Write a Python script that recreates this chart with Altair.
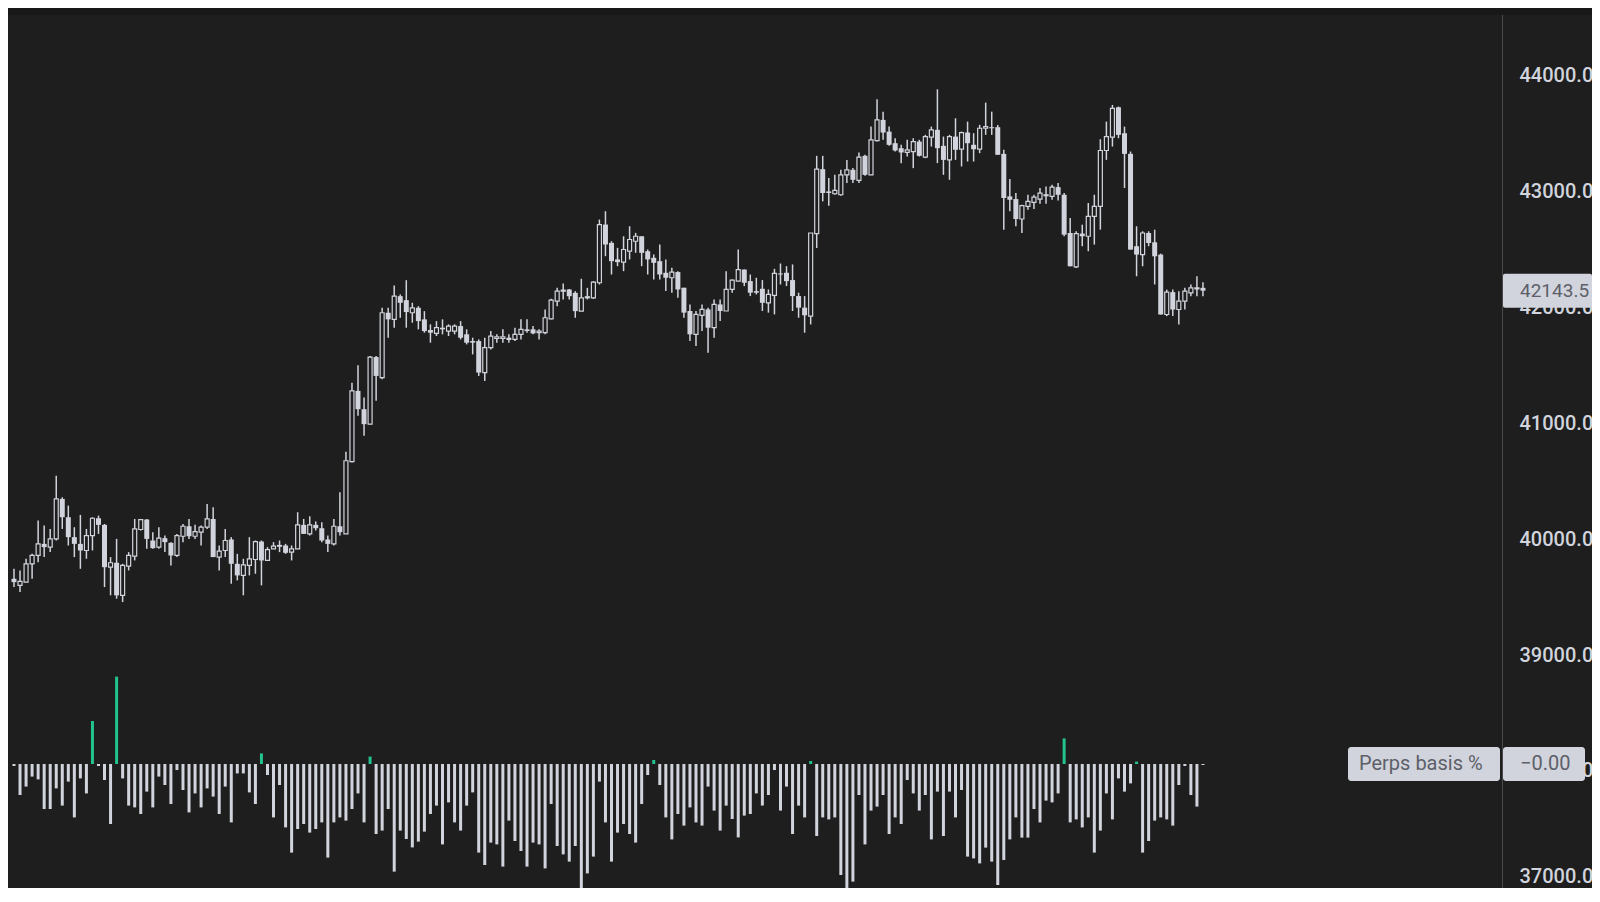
import altair as alt
import pandas as pd

# ---------------- data ----------------
open_ = [
    39658, 39601, 39629, 39787, 39859, 39959, 39931, 40002, 40347, 40189,
    40017, 39959, 39902, 40031, 40180, 40123, 39758, 39796, 39515, 39767,
    39853, 40083, 40169, 39988, 39931, 40008, 39968, 39859, 40025, 40111,
    40025, 40060, 40103, 40174, 39845, 39902, 39997, 39787, 39687, 39773,
    39824, 39979, 39816, 39916, 39939, 39945, 39888, 39916, 40123, 40045,
    40123, 40094, 39997, 39959, 40111,
    40045, 40668, 41279, 41121, 40992, 41571, 41393, 41953, 41896, 42096,
    42062, 41953, 41996, 41896, 41804, 41775, 41824, 41795, 41795, 41838,
    41767, 41709, 41709, 41437, 41652, 41732, 41732, 41738, 41723, 41767,
    41810, 41810, 41781, 41781, 41901, 42053, 42139, 42154, 42125, 41967,
    42082, 42082, 42212,
    42714, 42556, 42413, 42390, 42484, 42570, 42613, 42484, 42427, 42398,
    42298, 42255, 42304, 42169, 41968, 41767, 41931, 41982, 41824, 42025,
    41968, 42154, 42226, 42326, 42226, 42140, 42160, 42039, 42103, 42292,
    42298, 42235, 42097, 41997,
    41924, 42636, 43192, 43000, 42980, 42971, 43143, 43186, 43095, 43307,
    43143, 43439, 43617, 43516, 43416, 43373, 43336, 43344, 43430, 43295,
    43468, 43531, 43393, 43272, 43473, 43364, 43508, 43402, 43364, 43545,
    43554, 43554, 43324, 42957, 42934, 42762, 42871, 42905, 42934, 42963,
    42957, 43037, 42971, 42641, 42349, 42636, 42613, 42785, 42871, 43353,
    43468, 43726, 43502, 43324, 42527, 42455, 42641, 42561, 42455, 41938,
    42131, 41981, 42053, 42125, 42159, 42168,
]
high = [
    39744, 39730, 39830, 39873, 40160, 40117, 40088, 40547, 40361, 40289,
    40103, 40209, 40088, 40189, 40203, 40131, 39845, 40002, 39787, 39888,
    40174, 40174, 40174, 40060, 40103, 40031, 39974, 40045, 40131, 40174,
    40123, 40117, 40304, 40275, 39945, 40088, 40017, 39873, 39830, 40017,
    39988, 39988, 39931, 39974, 39988, 39959, 39945, 40232, 40174, 40197,
    40152, 40146, 40031, 40174, 40404,
    40754, 41350, 41500, 41221, 41580, 41580, 41996, 41996, 42188, 42111,
    42234, 42039, 42010, 41967, 41853, 41881, 41896, 41853, 41853, 41881,
    41810, 41738, 41723, 41738, 41795, 41767, 41810, 41767, 41824, 41896,
    41896, 41838, 41810, 41982, 42073, 42168, 42205, 42159, 42139, 42246,
    42168, 42226, 42757,
    42829, 42570, 42513, 42613, 42699, 42642, 42613, 42499, 42456, 42542,
    42413, 42341, 42312, 42169, 42025, 41968, 42025, 41997, 42068, 42068,
    42312, 42240, 42499, 42326, 42283, 42255, 42235, 42154, 42332, 42378,
    42355, 42370, 42126, 42097,
    42641, 43307, 43307, 43115, 43143, 43186, 43272, 43201, 43336, 43316,
    43559, 43795, 43688, 43559, 43459, 43402, 43445, 43459, 43445, 43488,
    43559, 43881, 43473, 43488, 43631, 43516, 43602, 43502, 43574, 43766,
    43688, 43574, 43359, 43106, 42986, 42885, 42971, 42971, 43029, 43043,
    43057, 43072, 42986, 42770, 42656, 42713, 42900, 42971, 43450, 43602,
    43746, 43732, 43559, 43344, 42699, 42656, 42656, 42670, 42463, 42153,
    42153, 42139, 42168, 42197, 42268, 42217,
]
low = [
    39586, 39543, 39629, 39658, 39801, 39845, 39888, 39988, 40088, 39945,
    39845, 39744, 39830, 39902, 40045, 39586, 39515, 39486, 39457, 39730,
    39816, 40074, 39916, 39916, 39916, 39888, 39773, 39845, 39974, 40002,
    40002, 39945, 40088, 39845, 39730, 39845, 39615, 39644, 39515, 39687,
    39701, 39601, 39816, 39916, 39888, 39873, 39816, 39916, 40045, 40031,
    40074, 39974, 39888, 39945, 40031,
    40045, 40662, 41064, 40891, 40992, 41193, 41379, 41738, 41824, 41910,
    41824, 41867, 41810, 41781, 41695, 41752, 41767, 41752, 41767, 41723,
    41680, 41594, 41408, 41365, 41637, 41695, 41695, 41695, 41709, 41723,
    41781, 41767, 41723, 41767, 41896, 42010, 42068, 42068, 41910, 41967,
    42068, 42073, 42197,
    42441, 42283, 42355, 42312, 42413, 42470, 42355, 42283, 42240, 42240,
    42140, 42126, 42083, 41910, 41710, 41667, 41796, 41609, 41738, 41882,
    41968, 42126, 42226, 42183, 42097, 42111, 41968, 41954, 41939, 42197,
    42183, 41968, 41910, 41781,
    41852, 42512, 42914, 42877, 42971, 42963, 43072, 43072, 43072, 43135,
    43143, 43430, 43445, 43393, 43344, 43244, 43301, 43201, 43301, 43287,
    43387, 43244, 43143, 43100, 43272, 43215, 43258, 43258, 43330, 43488,
    43488, 43316, 42670, 42828, 42699, 42641, 42842, 42848, 42894, 42894,
    42928, 42922, 42613, 42354, 42340, 42527, 42484, 42541, 42670, 43272,
    43387, 43459, 43029, 42498, 42268, 42354, 42527, 42197, 41938, 41924,
    41924, 41852, 41981, 42096, 42096, 42096,
]
close = [
    39629, 39635, 39787, 39859, 39959, 39931, 40002, 40347, 40189, 40017,
    39959, 39902, 40031, 40180, 40123, 39758, 39796, 39515, 39773, 39859,
    40088, 40169, 40002, 39922, 40008, 39974, 39859, 40031, 40111, 40025,
    40065, 40103, 40174, 39845, 39896, 39988, 39787, 39687, 39778, 39830,
    39979, 39816, 39910, 39939, 39945, 39882, 39916, 40123, 40045, 40123,
    40094, 39988, 39959, 40111, 40060,
    40676, 41279, 41121, 40992, 41571, 41408, 41953, 41896, 42096, 42039,
    41959, 41996, 41881, 41795, 41781, 41824, 41810, 41838, 41838, 41738,
    41695, 41695, 41437, 41652, 41752, 41746, 41746, 41718, 41767, 41810,
    41795, 41775, 41795, 41910, 42062, 42139, 42148, 42096, 41967, 42082,
    42091, 42217, 42714,
    42542, 42398, 42390, 42499, 42585, 42613, 42470, 42413, 42384, 42283,
    42255, 42304, 42154, 41954, 41767, 41939, 41982, 41824, 42025, 41968,
    42154, 42235, 42326, 42212, 42126, 42126, 42039, 42111, 42292, 42283,
    42226, 42097, 41997, 41931,
    42641, 43192, 42986, 42986, 43009, 43143, 43186, 43100, 43295, 43143,
    43445, 43617, 43508, 43402, 43353, 43336, 43359, 43430, 43307, 43473,
    43531, 43373, 43272, 43473, 43359, 43508, 43416, 43364, 43545, 43559,
    43545, 43316, 42943, 42928, 42762, 42877, 42914, 42951, 42986, 42971,
    43037, 42971, 42627, 42354, 42636, 42613, 42785, 42871, 43353, 43473,
    43717, 43488, 43324, 42498, 42455, 42641, 42555, 42440, 41938, 42131,
    41981, 42053, 42139, 42168, 42168, 42143.5,
]
basis_pct = [
    -0.001, -0.0155, -0.0113, -0.0063, -0.0077, -0.0225, -0.0225, -0.0122, -0.0208, -0.0088,
    -0.0267, -0.0072, -0.0147, 0.0215, -0.001, -0.008, -0.030, 0.0437, -0.0072, -0.0208,
    -0.0217, -0.025, -0.0138, -0.0217, -0.0063, -0.0105, -0.020, -0.003, -0.013, -0.0242,
    -0.0147, -0.0217, -0.0122, -0.0163, -0.025, -0.0113, -0.0292, -0.0047, -0.0047, -0.0142,
    -0.020, 0.0053, -0.0055, -0.0267, -0.0105, -0.0317, -0.0443, -0.0325, -0.030, -0.0343,
    -0.0325, -0.0292, -0.0468, -0.0292, -0.0267, -0.0283, -0.0225, -0.0147, -0.0292, 0.0037,
    -0.035, -0.0333, -0.0225, -0.0538, -0.0333, -0.0375, -0.0417,
    -0.0388, -0.0338, -0.025, -0.0208, -0.0402, -0.0192, -0.0292, -0.0333, -0.0208, -0.0142,
    -0.0443, -0.0505, -0.0393, -0.0402, -0.0513, -0.0283, -0.0385, -0.0435, -0.0513, -0.0393,
    -0.0402, -0.0522, -0.020, -0.041, -0.0452, -0.0488, -0.041, -0.0647, -0.0547, -0.0463,
    -0.0088, -0.0292, -0.0488, -0.0343, -0.030, -0.035, -0.0393, -0.020, -0.0055, 0.002,
    -0.0105, -0.0267, -0.0377, -0.025, -0.0308, -0.0217, -0.0292, -0.0308, -0.0113, -0.0233,
    -0.0333, -0.0208, -0.0275, -0.0367, -0.0258, -0.025, -0.0147, -0.0208, -0.0155, -0.003,
    -0.0233, -0.0113, -0.035, -0.0208, -0.0267, 0.0015,
    -0.036, -0.0267, -0.0277, -0.0267, -0.0555, -0.0655, -0.0588, -0.0155, -0.0402, -0.0233,
    -0.0213, -0.0155, -0.035, -0.0267, -0.030, -0.008, -0.0147, -0.0233, -0.0155, -0.0377,
    -0.0138, -0.036, -0.0138, -0.0267, -0.013, -0.0463, -0.0472, -0.0497, -0.0418, -0.0488,
    -0.0605, -0.048, -0.0377, -0.0267, -0.0368, -0.0368, -0.0225, -0.0292, -0.0183, -0.0192,
    -0.0147, 0.0128, -0.0292, -0.0277, -0.0317, -0.0267, -0.0443, -0.0333, -0.0147, -0.0277,
    -0.0072, -0.0138, -0.0097, 0.0012, -0.0443, -0.0385, -0.0283, -0.0267, -0.0277, -0.0308,
    -0.0105, -0.001, -0.0155, -0.0213, -0.0005,
]
price_ticks = [37000, 38000, 39000, 40000, 41000, 42000, 43000, 44000]
last_price = 42143.5
last_price_label = "42143.5"
basis_name = "Perps basis %"
basis_last_label = "\u22120.00"

# ---------------- styling / layout ----------------
BG = "#1e1e1e"
BAND = "#181818"
FG = "#d1d4dc"
TAG_TEXT = "#5d6069"
GREEN = "#22c38e"
FONT = "Roboto"

W, H = 1494, 880
PAD_R = 90
PRICE_DOMAIN = [36990, 44582.4]
BASIS_DOMAIN = [-0.062, 0.378]
X_DOMAIN = [-0.1646, 245.72]
price_per_px = (PRICE_DOMAIN[1] - PRICE_DOMAIN[0]) / H
basis_per_px = (BASIS_DOMAIN[1] - BASIS_DOMAIN[0]) / H

n = len(close)
df = pd.DataFrame({
    "i": list(range(n)),
    "open": open_, "high": high, "low": low, "close": close,
    "basis": basis_pct,
})

x_scale = alt.Scale(domain=X_DOMAIN, nice=False, zero=False)
price_scale = alt.Scale(domain=PRICE_DOMAIN, nice=False, zero=False)
basis_scale = alt.Scale(domain=BASIS_DOMAIN, nice=False, zero=False)

price_axis = alt.Axis(
    orient="right", values=price_ticks, format=".1f", ticks=False, grid=False,
    domain=True, domainColor="#4a4a4a", domainWidth=1,
    labelColor=FG, labelFont=FONT, labelFontSize=20, labelFontWeight=500,
    labelPadding=17, labelAlign="left",
    labelBaseline={"condition": {"test": "datum.value == 37000", "value": "bottom"},
                   "value": "middle"},
    labelOverlap=False, labelFlush=False, title=None, zindex=0,
)
X = alt.X("i:Q", scale=x_scale, axis=None)

base = alt.Chart(df)

wicks = base.mark_rule(color=FG, strokeWidth=1.5).encode(
    x=X,
    y=alt.Y("low:Q", scale=price_scale, axis=price_axis),
    y2="high:Q",
)
up_bodies = base.transform_filter("datum.close >= datum.open").mark_bar(
    size=4, fill=BG, stroke=FG, strokeWidth=1.2, orient="vertical"
).encode(
    x=X,
    y=alt.Y("open:Q", scale=price_scale, axis=price_axis),
    y2="close:Q",
)
down_bodies = base.transform_filter("datum.close < datum.open").mark_bar(
    size=5, color=FG, orient="vertical"
).encode(
    x=X,
    y=alt.Y("open:Q", scale=price_scale, axis=price_axis),
    y2="close:Q",
)

tag_df = pd.DataFrame({"v": [last_price], "label": [last_price_label]})
half_p = 17.0 * price_per_px
price_tag = alt.Chart(tag_df).transform_calculate(
    lo=f"datum.v - {half_p}", hi=f"datum.v + {half_p}"
).mark_rect(color=FG, cornerRadius=2).encode(
    x=alt.value(W + 1), x2=alt.value(W + PAD_R),
    y=alt.Y("lo:Q", scale=price_scale, axis=price_axis), y2="hi:Q",
)
price_tag_text = alt.Chart(tag_df).mark_text(
    align="left", baseline="middle", font=FONT, fontSize=19, color=TAG_TEXT
).encode(
    x=alt.value(W + 18),
    y=alt.Y("v:Q", scale=price_scale, axis=price_axis),
    text="label:N",
)

price_layer = alt.layer(wicks, up_bodies, down_bodies, price_tag, price_tag_text)

band = alt.Chart(pd.DataFrame({"k": [0]})).mark_rect(color=BAND).encode(
    x=alt.value(0), x2=alt.value(W + PAD_R), y=alt.value(0), y2=alt.value(7)
)
basis_bars = base.mark_bar(size=3, orient="vertical").encode(
    x=X,
    y=alt.Y("basis:Q", scale=basis_scale, axis=None),
    color=alt.condition("datum.basis > 0", alt.value(GREEN), alt.value(FG)),
)
half_b = 17 * basis_per_px
btag_df = pd.DataFrame({
    "v": [0.0, 0.0],
    "label": [basis_name, basis_last_label],
    "x0": [W - 154, W + 1],
    "x1": [W - 2, W + 83],
    "tx": [W - 143, W + 18],
})
basis_tags = alt.Chart(btag_df).transform_calculate(
    lo=f"datum.v - {half_b}", hi=f"datum.v + {half_b}"
).mark_rect(color=FG, cornerRadius=3).encode(
    x=alt.X("x0:Q", scale=None, axis=None), x2="x1:Q",
    y=alt.Y("lo:Q", scale=basis_scale, axis=None), y2="hi:Q",
)
basis_tag_text = alt.Chart(btag_df).mark_text(
    align="left", baseline="middle", font=FONT, fontSize=20, color=TAG_TEXT
).encode(
    x=alt.X("tx:Q", scale=None, axis=None),
    y=alt.Y("v:Q", scale=basis_scale, axis=None),
    text="label:N",
)

basis_layer = alt.layer(band, basis_bars, basis_tags, basis_tag_text)

chart = alt.layer(basis_layer, price_layer).resolve_scale(
    y="independent", x="independent"
).properties(
    width=W, height=H,
    padding={"left": 0, "top": 0, "right": PAD_R, "bottom": 0},
    autosize=alt.AutoSizeParams(type="none"),
    background=BG,
).configure_view(stroke=None)

chart.save("out.html", embed_options={"renderer": "svg", "actions": False})
